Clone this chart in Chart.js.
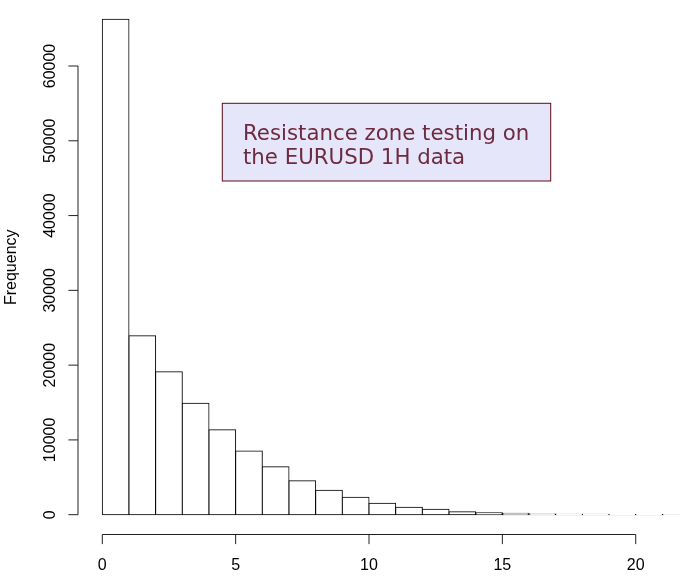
<!DOCTYPE html>
<html>
<head>
<meta charset="utf-8">
<script src="https://cdn.jsdelivr.net/npm/chart.js@4/dist/chart.umd.min.js"></script>
<style>
  html, body { margin: 0; padding: 0; background: #ffffff; }
  #wrap { width: 680px; height: 586px; }
</style>
</head>
<body>
<div id="wrap"><canvas id="c" width="680" height="586"></canvas></div>
<script>
// ---- data ----
const binStarts = [0,1,2,3,4,5,6,7,8,9,10,11,12,13,14,15,16,17,18,19,20,21];
const frequency = [66250,23940,19120,14900,11370,8520,6420,4550,3260,2330,1520,990,720,400,270,190,100,70,50,30,20,10];
const xTicks = [0,5,10,15,20];
const yTicks = [0,10000,20000,30000,40000,50000,60000];
const yTitle = "Frequency";
const noteLines = ["Resistance zone testing on", "the EURUSD 1H data"];

const points = binStarts.map((b, i) => ({ x: b + 0.5, y: frequency[i] }));

const axisPlugin = {
  id: 'rAxes',
  afterDraw(chart) {
    const ctx = chart.ctx;
    const xs = chart.scales.x, ys = chart.scales.y;
    const area = chart.chartArea;
    const tick = 9.6;
    ctx.save();
    ctx.strokeStyle = '#222';
    ctx.fillStyle = '#000';
    ctx.lineWidth = 1;
    ctx.font = '16px "Liberation Sans", Arial, sans-serif';
    // y axis
    const axX = area.left;
    ctx.beginPath();
    ctx.moveTo(axX, ys.getPixelForValue(yTicks[0]));
    ctx.lineTo(axX, ys.getPixelForValue(yTicks[yTicks.length - 1]));
    yTicks.forEach(v => {
      const py = ys.getPixelForValue(v);
      ctx.moveTo(axX - tick, py);
      ctx.lineTo(axX, py);
    });
    ctx.stroke();
    ctx.textAlign = 'center';
    ctx.textBaseline = 'alphabetic';
    yTicks.forEach(v => {
      const py = ys.getPixelForValue(v);
      ctx.save();
      ctx.translate(55, py);
      ctx.rotate(-Math.PI / 2);
      ctx.fillText(String(v), 0, 0);
      ctx.restore();
    });
    // x axis
    const axY = area.bottom;
    ctx.beginPath();
    ctx.moveTo(xs.getPixelForValue(xTicks[0]), axY);
    ctx.lineTo(xs.getPixelForValue(xTicks[xTicks.length - 1]), axY);
    xTicks.forEach(v => {
      const px = xs.getPixelForValue(v);
      ctx.moveTo(px, axY);
      ctx.lineTo(px, axY + tick);
    });
    ctx.stroke();
    xTicks.forEach(v => {
      ctx.fillText(String(v), xs.getPixelForValue(v), 570);
    });
    // y title
    ctx.save();
    ctx.translate(16, (area.top + area.bottom) / 2);
    ctx.rotate(-Math.PI / 2);
    ctx.fillText(yTitle, 0, 0);
    ctx.restore();
    // note box
    ctx.fillStyle = '#E6E6FA';
    ctx.fillRect(222.3, 103.3, 328.4, 77.7);
    ctx.strokeStyle = '#5E0A18';
    ctx.strokeRect(222.3, 103.3, 328.4, 77.7);
    ctx.fillStyle = '#6E2B40';
    ctx.font = '21.3px "DejaVu Sans", sans-serif';
    ctx.textAlign = 'left';
    ctx.fillText(noteLines[0], 243, 140);
    ctx.fillText(noteLines[1], 243, 164);
    ctx.restore();
  }
};

new Chart(document.getElementById('c'), {
  type: 'bar',
  data: {
    datasets: [{
      data: points,
      backgroundColor: '#ffffff',
      borderColor: '#000000',
      borderWidth: 1,
      borderSkipped: false,
      inflateAmount: 0.5,
      barPercentage: 1,
      categoryPercentage: 1
    }]
  },
  options: {
    responsive: false,
    devicePixelRatio: 1,
    animation: false,
    layout: { padding: { left: 78, top: 0, right: 0, bottom: 51.5 } },
    plugins: { legend: { display: false }, tooltip: { enabled: false }, title: { display: false } },
    scales: {
      x: { type: 'linear', min: -0.911, max: 21.66, offset: false, display: false },
      y: { type: 'linear', min: -2648, max: 68826, display: false }
    }
  },
  plugins: [axisPlugin]
});
</script>
</body>
</html>
